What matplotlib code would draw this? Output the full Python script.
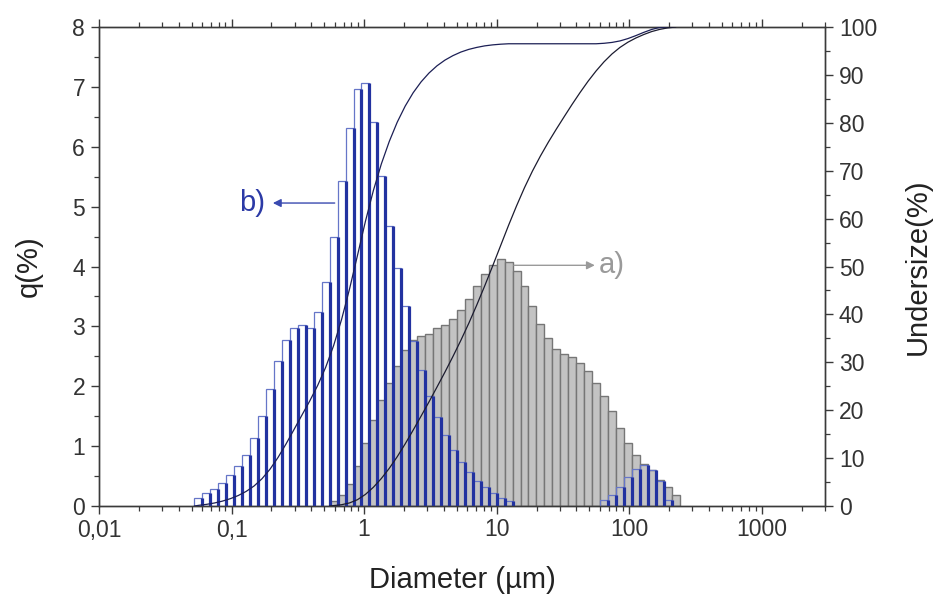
import numpy as np
import matplotlib
matplotlib.use("Agg")
import matplotlib.pyplot as plt
from matplotlib.ticker import FixedLocator, NullFormatter, LogLocator, MultipleLocator

plt.rcParams['font.family'] = ['Liberation Sans', 'DejaVu Sans']

# Size classes (lower edges of the measurement channels, um)
size_edges = [0.05248, 0.06026, 0.06918, 0.07943, 0.09120, 0.1047, 0.1202, 0.1380,
              0.1585, 0.1820, 0.2089, 0.2399, 0.2754, 0.3162, 0.3631, 0.4169,
              0.4786, 0.5495, 0.6310, 0.7244, 0.8318, 0.9550, 1.096, 1.259,
              1.445, 1.660, 1.905, 2.188, 2.512, 2.884, 3.311, 3.802,
              4.365, 5.012, 5.754, 6.607, 7.586, 8.710, 10.00, 11.48,
              13.18, 15.14, 17.38, 19.95, 22.91, 26.30, 30.20, 34.67,
              39.81, 45.71, 52.48, 60.26, 69.18, 79.43, 91.20, 104.7,
              120.2, 138.0, 158.5, 182.0, 208.9, 239.9, 275.4]
# bar centres (geometric) of each channel
size_mid = [0.0562, 0.0646, 0.0741, 0.0851, 0.0977, 0.1122, 0.1288, 0.1479,
            0.1698, 0.1950, 0.2239, 0.2570, 0.2951, 0.3388, 0.3890, 0.4467,
            0.5129, 0.5888, 0.6761, 0.7762, 0.8913, 1.023, 1.175, 1.349,
            1.549, 1.778, 2.042, 2.344, 2.692, 3.090, 3.548, 4.074,
            4.677, 5.370, 6.166, 7.079, 8.128, 9.333, 10.72, 12.30,
            14.13, 16.22, 18.62, 21.38, 24.55, 28.18, 32.36, 37.15,
            42.66, 48.98, 56.23, 64.57, 74.13, 85.11, 97.72, 112.2,
            128.8, 147.9, 169.8, 195.0, 223.9, 257.0]

# q(%) of sample b (blue, open bars)
q_b = [0.13, 0.21, 0.28, 0.38, 0.51, 0.66, 0.85, 1.14, 1.51, 1.96,
       2.42, 2.77, 2.98, 3.02, 2.98, 3.24, 3.74, 4.50, 5.43, 6.32,
       6.97, 7.07, 6.41, 5.51, 4.68, 3.98, 3.34, 2.76, 2.27, 1.84,
       1.49, 1.18, 0.93, 0.74, 0.56, 0.41, 0.31, 0.21, 0.14, 0.09,
       0.0, 0.0, 0.0, 0.0, 0.0, 0.0, 0.0, 0.0, 0.0, 0.0,
       0.0, 0.10, 0.18, 0.31, 0.49, 0.61, 0.68, 0.60, 0.42, 0.10,
       0.0, 0.0]
# q(%) of sample a (grey bars)
q_a = [0.0, 0.0, 0.0, 0.0, 0.0, 0.0, 0.0, 0.0, 0.0, 0.0,
       0.0, 0.0, 0.0, 0.0, 0.0, 0.0, 0.0, 0.08, 0.18, 0.36,
       0.66, 1.06, 1.44, 1.77, 2.05, 2.34, 2.60, 2.77, 2.84, 2.88,
       2.97, 3.02, 3.13, 3.27, 3.45, 3.67, 3.87, 4.02, 4.12, 4.07,
       3.93, 3.67, 3.34, 3.04, 2.80, 2.62, 2.54, 2.49, 2.39, 2.26,
       2.06, 1.84, 1.59, 1.31, 1.06, 0.85, 0.70, 0.60, 0.43, 0.31,
       0.18, 0.0]

# cumulative undersize (%) curves
und_b_d = [0.05248] + size_mid[:60]
und_b = [0.0, 0.13, 0.34, 0.62, 1.01, 1.52, 2.18, 3.04, 4.18, 5.70, 7.68,
         10.11, 12.90, 15.90, 18.93, 21.93, 25.19, 28.95, 33.48, 38.94, 45.30,
         52.31, 59.42, 65.87, 71.41, 76.12, 80.13, 83.49, 86.27, 88.55, 90.40,
         91.90, 93.09, 94.02, 94.77, 95.33, 95.74, 96.06, 96.27, 96.41, 96.50,
         96.50, 96.50, 96.50, 96.50, 96.50, 96.50, 96.50, 96.50, 96.50, 96.50,
         96.50, 96.60, 96.78, 97.09, 97.58, 98.20, 98.88, 99.49, 99.91, 100.0]
und_a_d = [0.5495] + size_mid[17:61]
und_a = [0.0, 0.08, 0.27, 0.64, 1.32, 2.42, 3.91, 5.74, 7.87, 10.29, 12.98,
         15.84, 18.78, 21.76, 24.84, 27.96, 31.20, 34.59, 38.16, 41.96, 45.96,
         50.12, 54.38, 58.60, 62.66, 66.46, 69.92, 73.06, 75.96, 78.67, 81.30,
         83.88, 86.35, 88.69, 90.82, 92.73, 94.37, 95.73, 96.82, 97.70, 98.43,
         99.05, 99.50, 99.81, 100.0]

x_ticks = [0.01, 0.1, 1, 10, 100, 1000]
x_ticklabels = ['0,01', '0,1', '1', '10', '100', '1000']

fig = plt.figure(figsize=(9.34, 6.04), dpi=100)
ax = fig.add_axes([99/934, 1-506/604, (825-99)/934, (506-27)/604])
ax.set_xscale('log')

edges = np.array(size_edges)
left = edges[:-1]
right = edges[1:]
width = right - left
qa = np.array(q_a)
qb = np.array(q_b)

ma = qa > 0
ax.bar(left[ma], qa[ma], width=width[ma], align='edge', color='#c3c3c3',
       edgecolor='#767676', linewidth=1.0, zorder=2)
mb = qb > 0
ax.bar(left[mb], qb[mb], width=width[mb], align='edge', fill=False,
       edgecolor='#6676c8', linewidth=0.9, zorder=3)
ax.vlines(right[mb], 0, qb[mb], color='#2232a0', linewidth=2.3, zorder=3)

ax.set_xlim(0.01, 3000)
ax.set_ylim(0, 8)

ax2 = ax.twinx()
ax2.set_ylim(0, 100)
ax2.plot(und_b_d, und_b, color='#1c1f55', lw=0.9, zorder=4)
ax2.plot(und_a_d, und_a, color='#1c1c30', lw=0.9, zorder=4)

# annotations
ax.annotate('', xy=(0.205, 5.06), xytext=(0.60, 5.06),
            arrowprops=dict(arrowstyle='-|>', color='#3a4ab0', lw=1.0,
                            mutation_scale=12, shrinkA=0, shrinkB=0), zorder=6)
ax.text(0.142, 5.06, 'b)', color='#2c3aa6', fontsize=21, ha='center', va='center', zorder=6)
ax.annotate('', xy=(55, 4.02), xytext=(13.5, 4.02),
            arrowprops=dict(arrowstyle='-|>', color='#9a9a9a', lw=1.0,
                            mutation_scale=12, shrinkA=0, shrinkB=0), zorder=6)
ax.text(59, 4.02, 'a)', color='#9a9a9a', fontsize=21, ha='left', va='center', zorder=6)

# ticks and spines
spine_c = '#3a3a3a'
for a in (ax, ax2):
    for s in a.spines.values():
        s.set_color(spine_c)
        s.set_linewidth(1.0)

ax.xaxis.set_major_locator(FixedLocator(x_ticks))
ax.set_xticklabels(x_ticklabels)
ax.xaxis.set_minor_locator(LogLocator(base=10, subs=np.arange(2, 10)))
ax.xaxis.set_minor_formatter(NullFormatter())
ax.yaxis.set_major_locator(MultipleLocator(1))
ax.yaxis.set_minor_locator(MultipleLocator(0.5))
ax2.yaxis.set_major_locator(MultipleLocator(10))
ax2.yaxis.set_minor_locator(MultipleLocator(5))

ax.tick_params(axis='x', which='both', direction='out', top=True, bottom=True,
               color=spine_c, labelsize=16.5, labelcolor='#333333', pad=3)
ax.tick_params(axis='x', which='major', length=6, width=1)
ax.tick_params(axis='x', which='minor', length=3.5, width=0.9)
ax.tick_params(axis='y', which='both', direction='out', left=True, right=False,
               color=spine_c, labelsize=16.5, labelcolor='#333333', pad=4)
ax.tick_params(axis='y', which='major', length=6, width=1)
ax.tick_params(axis='y', which='minor', length=3.5, width=0.9)
ax2.tick_params(axis='y', which='both', direction='out', color=spine_c,
                labelsize=16.5, labelcolor='#333333', pad=4)
ax2.tick_params(axis='y', which='major', length=6, width=1)
ax2.tick_params(axis='y', which='minor', length=3.5, width=0.9)

ax.set_xlabel('Diameter (µm)', fontsize=21, color='#222222')
ax.set_ylabel('q(%)', fontsize=21, color='#222222')
ax2.set_ylabel('Undersize(%)', fontsize=21, color='#222222')
ax.xaxis.set_label_coords(0.5, -(566 - 506) / 479)
ax.yaxis.set_label_coords((43 - 99) / 726, 0.5)
ax2.yaxis.set_label_coords((904 - 99) / 726, 0.5)

fig.savefig('out.png', dpi=100)
